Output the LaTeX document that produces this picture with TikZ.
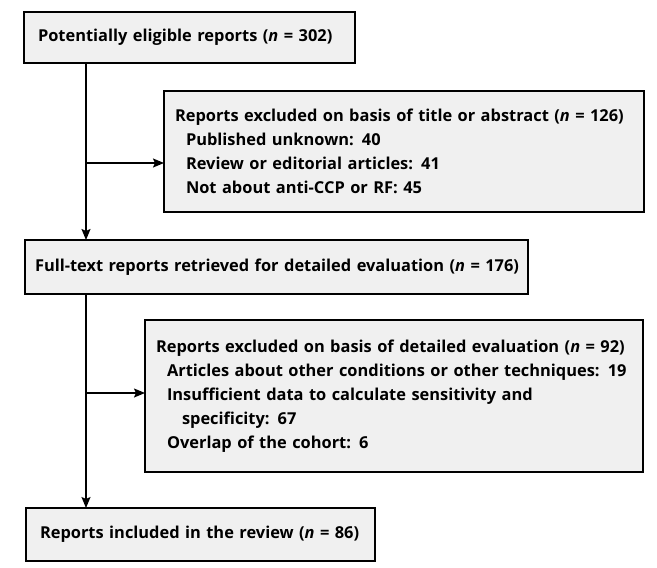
\documentclass[tikz,border=0pt]{standalone}
\usepackage{fontspec}
\setmainfont{Open Sans}
\usetikzlibrary{arrows.meta}
\begin{document}
\begin{tikzpicture}[x=1pt,y=-1pt,
  box/.style={draw=black, line width=1.8pt, fill=black!6, anchor=north west,
    inner xsep=12pt, inner ysep=0pt, align=left, outer sep=0pt,
    font=\bfseries\fontsize{16.4}{24}\selectfont},
  conn/.style={line width=1.4pt, -{Stealth[length=11pt,width=9pt,inset=2pt]}}]
\useasboundingbox (0,0) rectangle (657,568);
\node[box, minimum width=331pt, minimum height=51pt, text width=303pt, inner xsep=14pt] (b1) at (24,12)
  {\mbox{Potentially eligible reports (\textit{n} = 302)}};
\node[box, minimum width=480pt, minimum height=121pt, text width=458pt, inner xsep=11pt] (b2) at (164,91)
  {\mbox{Reports excluded on basis of title or abstract (\textit{n} = 126)}\\
   \hspace*{11pt}\mbox{Published unknown: 40}\\
   \hspace*{11pt}\mbox{Review or editorial articles: 41}\\
   \hspace*{11pt}\mbox{Not about anti-CCP or RF: 45}};
\node[box, minimum width=503pt, minimum height=54pt, text width=483pt, inner xsep=10pt] (b3) at (25,240)
  {\mbox{Full-text reports retrieved for detailed evaluation (\textit{n} = 176)}};
\node[box, minimum width=498pt, minimum height=152pt, text width=476pt, inner xsep=11pt] (b4) at (145,320)
  {\mbox{Reports excluded on basis of detailed evaluation (\textit{n} = 92)}\\
   \hspace*{11pt}\mbox{Articles about other conditions or other techniques: 19}\\
   \hspace*{11pt}\mbox{Insufficient data to calculate sensitivity and}\\
   \hspace*{26pt}\mbox{specificity: 67}\\
   \hspace*{11pt}\mbox{Overlap of the cohort: 6}};
\node[box, minimum width=349pt, minimum height=53pt, text width=321pt, inner xsep=14pt] (b5) at (26,508)
  {\mbox{Reports included in the review (\textit{n} = 86)}};
\coordinate (j1) at (86,163);
\coordinate (j2) at (86,393);
\draw[conn] (b1.south -| j1) -- (b3.north -| j1);
\draw[conn] (j1) -- (j1 -| b2.west);
\draw[conn] (b3.south -| j2) -- (b5.north -| j2);
\draw[conn] (j2) -- (j2 -| b4.west);
\end{tikzpicture}
\end{document}
